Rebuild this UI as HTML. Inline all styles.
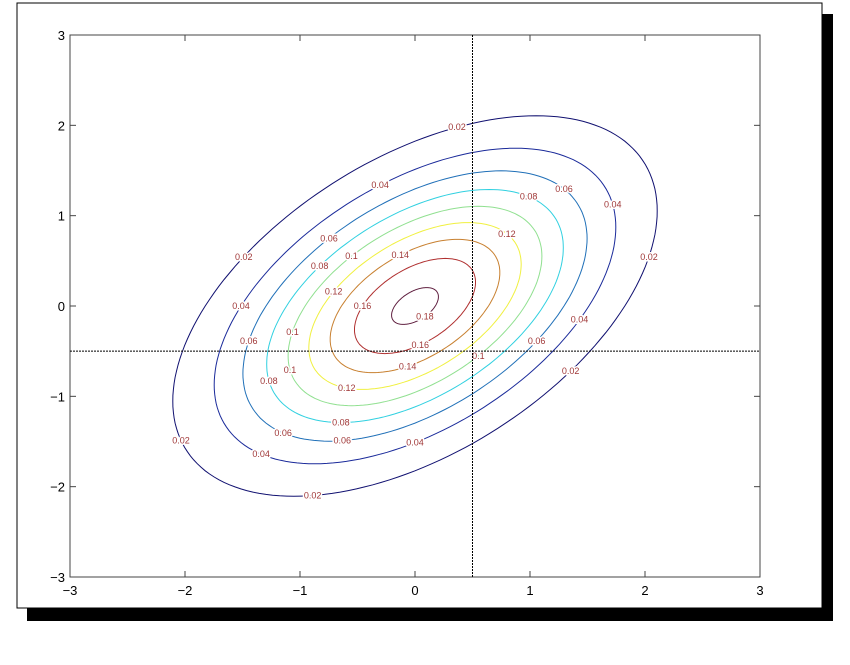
<!DOCTYPE html>
<html><head><meta charset="utf-8"><style>
body{margin:0;background:#fff;width:850px;height:660px;overflow:hidden;font-family:"Liberation Sans",sans-serif}
</style></head><body>
<svg id="chart" width="850" height="660" xmlns="http://www.w3.org/2000/svg">
<rect x="27" y="14" width="806" height="607" fill="#000"/>
<rect x="17" y="3" width="805" height="605" fill="#fff" stroke="#000" stroke-width="1"/>
<g id="plot"></g>
</svg>
<script>
const levels=[0.02,0.04,0.06,0.08,0.1,0.12,0.14,0.16,0.18];
const levelColors=["#101070","#1a2a9a","#2070b8","#30d0e0","#90e090","#f0f040","#c88030","#b03030","#602040"];
const mean=[0,0];
const sigma=[1,1];
const rho=[0.5];
const xTicks=[-3,-2,-1,0,1,2,3];
const yTicks=[-3,-2,-1,0,1,2,3];
const crossX=[0.5];
const crossY=[-0.5];
// label parameter angles (degrees) per level
const labelAngles=[[80,135,345,195,245,310],[100,150,10,220,270,325],[120,165,30,220,245,315],[130,40,240,190],[120,165,190,300],[140,30,230],[100,265],[150,275],[295]];

const X0=70,X1=760,Y0=577,Y1=35;
const sx=v=>X0+(v+3)/6*(X1-X0);
const sy=v=>Y0-(v+3)/6*(Y0-Y1);
const NS="http://www.w3.org/2000/svg";
const g=document.getElementById('plot');
function mk(t,a){const e=document.createElementNS(NS,t);for(const k in a)e.setAttribute(k,a[k]);g.appendChild(e);return e;}

let box=mk('rect',{x:X0,y:Y1,width:X1-X0,height:Y0-Y1,fill:'none',stroke:'#444','stroke-width':1});



xTicks.forEach(t=>{
  const l=mk('line',{x1:sx(t),x2:sx(t),y1:Y0,y2:Y0-6,stroke:'#444'});
  
  
  const l2=mk('line',{x1:sx(t),x2:sx(t),y1:Y1,y2:Y1+6,stroke:'#444'});
  
  
  const tx=mk('text',{x:sx(t),y:Y0+18,'text-anchor':'middle','font-size':13,fill:'#000'});
  tx.textContent=(t<0?'\u2212':'')+Math.abs(t);
  
  
});
yTicks.forEach(t=>{
  const l=mk('line',{x1:X0,x2:X0+6,y1:sy(t),y2:sy(t),stroke:'#444'});
  
  
  const l2=mk('line',{x1:X1,x2:X1-6,y1:sy(t),y2:sy(t),stroke:'#444'});
  
  
  const tx=mk('text',{x:X0-5,y:sy(t)+5,'text-anchor':'end','font-size':13,fill:'#000'});
  tx.textContent=(t<0?'\u2212':'')+Math.abs(t);
  
  
});

const r=rho[0],s1=sigma[0],s2=sigma[1];
const peak=1/(2*Math.PI*s1*s2*Math.sqrt(1-r*r));
function pt(q,tDeg){const t=tDeg*Math.PI/180,R=Math.sqrt(q);
  const u=R*Math.cos(t),v=R*Math.sin(t);
  return [mean[0]+s1*u, mean[1]+s2*(r*u+Math.sqrt(1-r*r)*v)];}
levels.forEach((c,i)=>{
  if(c>=peak)return;
  const q=2*Math.log(peak/c);
  let d='';
  for(let a=0;a<=360;a+=2){const p=pt(q,a);d+=(a?'L':'M')+sx(p[0]).toFixed(1)+','+sy(p[1]).toFixed(1);}
  const path=mk('path',{d:d+'Z',fill:'none',stroke:levelColors[i],'stroke-width':1});
  
  
  (labelAngles[i]||[]).forEach(a=>{
    const p=pt(q,a);
    const tx=mk('text',{x:sx(p[0]),y:sy(p[1])+3,'text-anchor':'middle','font-size':9,fill:'#a03838',stroke:'#fff','stroke-width':3,'paint-order':'stroke'});
    tx.textContent=String(c);
    
    
  });
});

const vl=mk('line',{x1:sx(crossX[0]),x2:sx(crossX[0]),y1:Y1,y2:Y0,stroke:'#000','stroke-dasharray':'2,1','stroke-width':1});


const hl=mk('line',{x1:X0,x2:X1,y1:sy(crossY[0]),y2:sy(crossY[0]),stroke:'#000','stroke-dasharray':'2,1','stroke-width':1});


</script>
</body></html>
